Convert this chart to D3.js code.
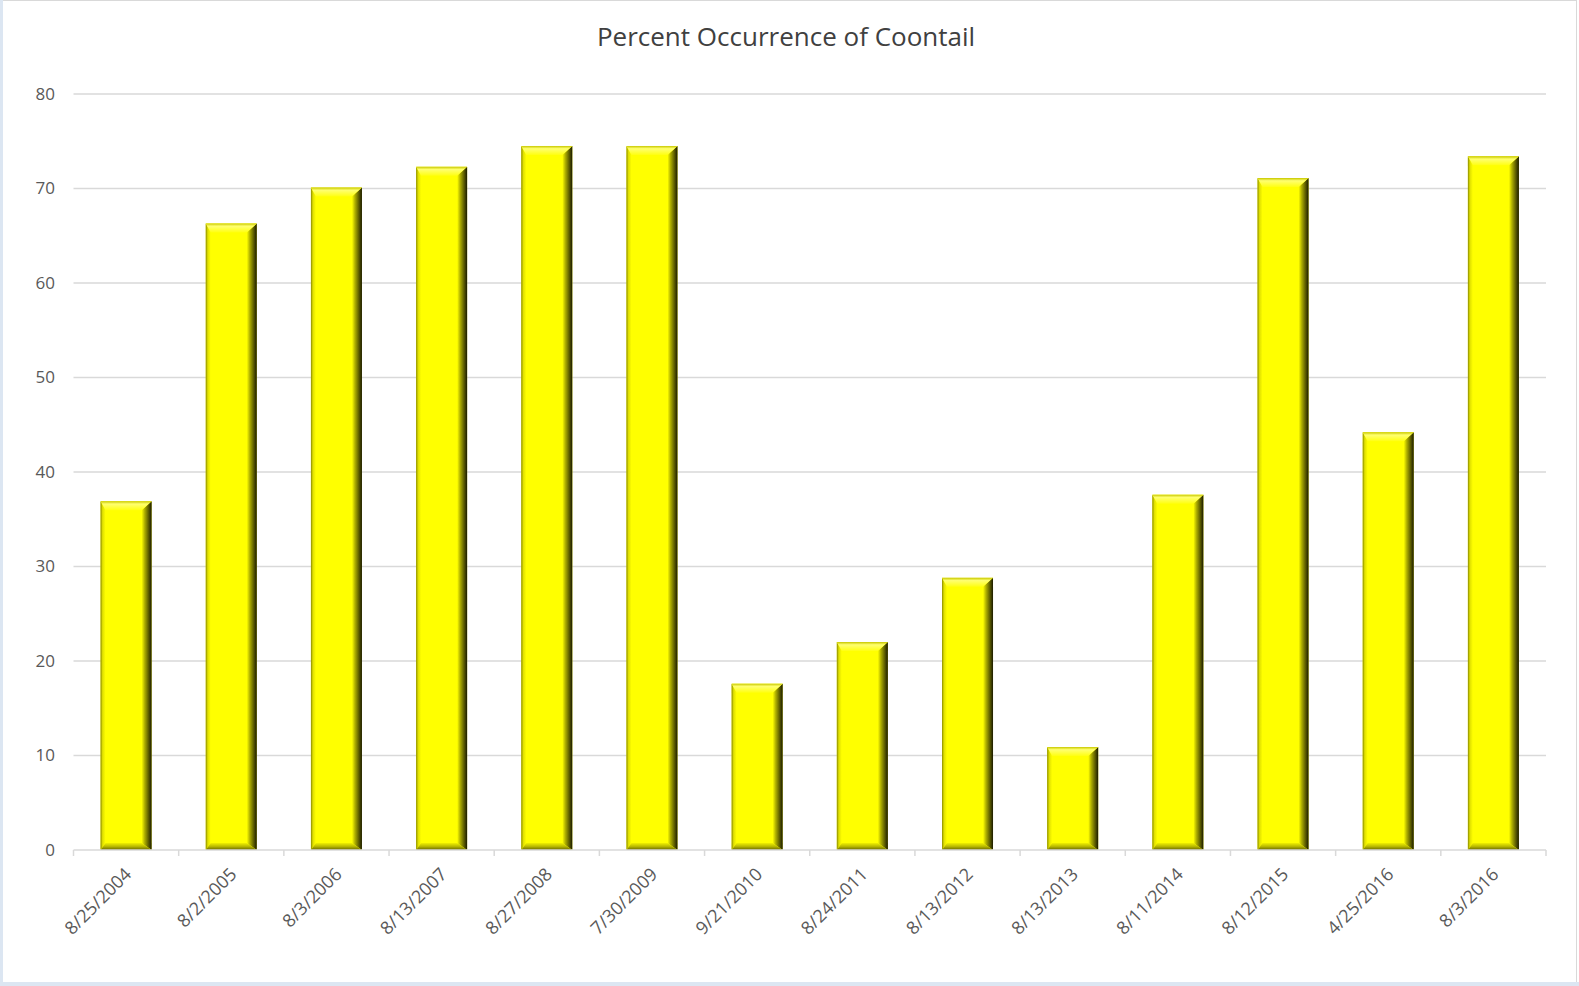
<!DOCTYPE html>
<html>
<head>
<meta charset="utf-8">
<script src="https://cdn.jsdelivr.net/npm/d3@7"></script>
<style>
body { margin: 0; background: #fff; }
svg { display: block; font-family: "Open Sans", "Liberation Sans", sans-serif; }
</style>
</head>
<body>
<script>
var dates = ["8/25/2004", "8/2/2005", "8/3/2006", "8/13/2007", "8/27/2008", "7/30/2009", "9/21/2010",
	"8/24/2011", "8/13/2012", "8/13/2013", "8/11/2014", "8/12/2015", "4/25/2016", "8/3/2016"];
var percents = [36.9, 66.3, 70.1, 72.3, 74.5, 74.5, 17.6, 22.0, 28.8, 10.9, 37.6, 71.1, 44.2, 73.4];
var yTicks = [0, 10, 20, 30, 40, 50, 60, 70, 80];
var title = "Percent Occurrence of Coontail";

var width = 1579, height = 986;
var margin = {top: 94, left: 73.5, right: 33, bottom: 136};

var svg = d3.select("body").append("svg")
	.attr("width", width)
	.attr("height", height);

// frame of the chart area
svg.append("rect").attr("x", 0.5).attr("y", 0.5).attr("width", width - 3).attr("height", height - 4)
	.attr("fill", "#fff").attr("stroke", "#d9d9d9");
svg.append("rect").attr("x", 0).attr("y", 0).attr("width", 3).attr("height", height).attr("fill", "#dce6f2");
svg.append("rect").attr("x", 0).attr("y", height - 4).attr("width", width).attr("height", 4).attr("fill", "#dce6f2");

var x = d3.scaleBand()
	.domain(dates)
	.range([margin.left, width - margin.right])
	.paddingInner(0.515)
	.paddingOuter(0.2575);

var y = d3.scaleLinear()
	.domain([0, 80])
	.range([height - margin.bottom, margin.top]);

// gradients for the bevel
var defs = svg.append("defs");
function grad(id, x2, y2, stops){
	var g = defs.append("linearGradient").attr("id", id)
		.attr("x1", 0).attr("y1", 0).attr("x2", x2).attr("y2", y2);
	stops.forEach(function(s){
		g.append("stop").attr("offset", s[0]).attr("stop-color", s[1]);
	});
}
grad("bvTop", 0, 1, [[0, "#c8c800"], [0.3, "#ffff70"], [1, "#ffff10"]]);
grad("bvRight", 1, 0, [[0, "#ffff00"], [0.3, "#b0b000"], [0.7, "#5a5a00"], [1, "#1a1a00"]]);
grad("bvLeft", 1, 0, [[0, "#8a8a00"], [0.4, "#e0e000"], [1, "#ffff00"]]);
grad("bvBottom", 0, 1, [[0, "#f0f000"], [0.5, "#b8b800"], [1, "#666600"]]);

// gridlines
svg.append("g").selectAll("line")
	.data(yTicks.filter(function(d){ return d > 0; }))
	.enter().append("line")
	.attr("x1", margin.left).attr("x2", width - margin.right)
	.attr("y1", function(d){ return y(d); }).attr("y2", function(d){ return y(d); })
	.attr("stroke", "#d9d9d9").attr("stroke-width", 1.5);

// y labels
svg.append("g").selectAll("text")
	.data(yTicks)
	.enter().append("text")
	.attr("x", 55)
	.attr("y", function(d){ return y(d); })
	.attr("dy", "0.35em")
	.attr("text-anchor", "end")
	.attr("fill", "#595959")
	.style("font-size", "17px")
	.text(function(d){ return d; });

// bars
var bev = 9, bw = x.bandwidth();
var bars = svg.append("g").selectAll("g")
	.data(dates)
	.enter().append("g");

bars.append("rect")
	.attr("x", function(d){ return x(d); })
	.attr("y", function(d, i){ return y(percents[i]); })
	.attr("width", bw)
	.attr("height", function(d, i){ return y(0) - y(percents[i]); })
	.attr("fill", "#ffff00");

function poly(pts){ return pts.map(function(p){ return p.join(","); }).join(" "); }

bars.append("polygon")
	.attr("fill", "url(#bvLeft)")
	.attr("points", function(d, i){
		var x0 = x(d), t = y(percents[i]), b = y(0);
		return poly([[x0, t], [x0 + 5, t + bev], [x0 + 5, b - 7], [x0, b]]);
	});
bars.append("polygon")
	.attr("fill", "url(#bvRight)")
	.attr("points", function(d, i){
		var x1 = x(d) + bw, t = y(percents[i]), b = y(0);
		return poly([[x1, t], [x1, b], [x1 - 10, b - 7], [x1 - 10, t + bev]]);
	});
bars.append("polygon")
	.attr("fill", "url(#bvBottom)")
	.attr("points", function(d, i){
		var x0 = x(d), b = y(0);
		return poly([[x0, b], [x0 + 5, b - 7], [x0 + bw - 10, b - 7], [x0 + bw, b]]);
	});
bars.append("polygon")
	.attr("fill", "url(#bvTop)")
	.attr("points", function(d, i){
		var x0 = x(d), t = y(percents[i]);
		return poly([[x0, t], [x0 + bw, t], [x0 + bw - 10, t + bev], [x0 + 5, t + bev]]);
	});

// x axis
var axisY = y(0);
svg.append("line")
	.attr("x1", margin.left).attr("x2", width - margin.right)
	.attr("y1", axisY).attr("y2", axisY)
	.attr("stroke", "#d9d9d9").attr("stroke-width", 1.5);

var step = x.step();
var tickXs = d3.range(dates.length + 1).map(function(i){ return margin.left + i * step; });
svg.append("g").selectAll("line")
	.data(tickXs)
	.enter().append("line")
	.attr("x1", function(d){ return d; }).attr("x2", function(d){ return d; })
	.attr("y1", axisY).attr("y2", axisY + 6)
	.attr("stroke", "#d9d9d9").attr("stroke-width", 1.5);

svg.append("g").selectAll("text")
	.data(dates)
	.enter().append("text")
	.attr("transform", function(d){
		return "translate(" + (x(d) + bw / 2 + 2) + "," + (axisY + 21) + ") rotate(-45)";
	})
	.attr("text-anchor", "end")
	.attr("dy", "0.35em")
	.attr("fill", "#595959")
	.style("font-size", "18px")
	.text(function(d){ return d; });

// title
svg.append("text")
	.attr("x", 786)
	.attr("y", 46)
	.attr("text-anchor", "middle")
	.attr("fill", "#404040")
	.style("font-size", "26px")
	.text(title);
</script>
</body>
</html>
